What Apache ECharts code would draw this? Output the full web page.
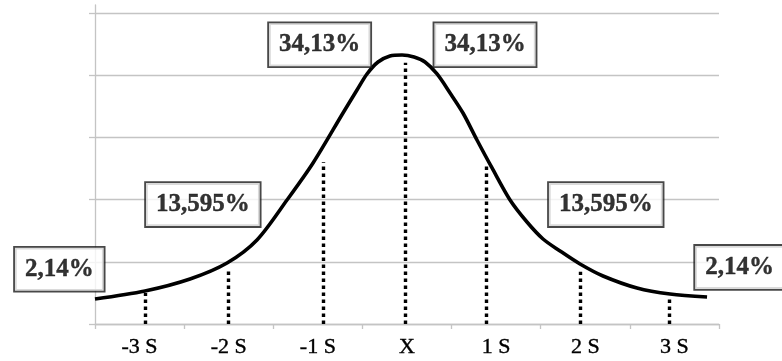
<!DOCTYPE html>
<html>
<head>
<meta charset="utf-8">
<script src="https://cdn.jsdelivr.net/npm/echarts@6/dist/echarts.min.js"></script>
<style>
html,body{margin:0;padding:0;background:#fff;}
#chart{width:782px;height:361px;}
</style>
</head>
<body>
<div id="chart"></div>
<script>
// Category tick labels (centres of 7 bands)
const categories = ['-3 S', '-2 S', '-1 S', 'X', '1 S', '2 S', '3 S'];

// Bell curve, x in band units (0..7), y in gridline units (0..5)
const curveX = [0.000,0.561,1.066,1.481,1.817,2.154,2.446,2.782,2.939,3.051,3.175,3.309,3.444,3.579,3.702,3.837,3.983,4.128,4.285,4.454,4.656,4.846,5.026,5.217,5.441,5.699,6.080,6.451,6.866];
const curveY = [0.402,0.531,0.724,0.981,1.351,1.994,2.589,3.393,3.763,4.021,4.214,4.310,4.326,4.294,4.214,4.021,3.715,3.393,2.959,2.509,1.994,1.640,1.367,1.174,0.965,0.772,0.579,0.482,0.434];

// Dotted standard-deviation markers
const sdX   = [0.56, 1.49, 2.56, 3.48, 4.39, 5.44, 6.44];
const sdTop = [0.50, 0.88, 2.60, 4.20, 2.59, 0.84, 0.42];

// Percentage annotation boxes
const boxTexts = ['2,14%', '13,595%', '34,13%', '34,13%', '13,595%', '2,14%'];
const boxX     = [-0.40, 1.21, 2.52, 4.375, 5.73, 7.23];
const boxY     = [0.88, 1.92, 4.49, 4.49, 1.92, 0.91];

const gridColor = '#c4c4c4';

const chart = echarts.init(document.getElementById('chart'), null, {renderer: 'canvas'});
chart.setOption({
  animation: false,
  backgroundColor: '#ffffff',
  grid: {left: 95, right: 63, top: 5, bottom: 37, containLabel: false},
  xAxis: [
    {
      type: 'category',
      data: categories,
      boundaryGap: true,
      axisLine: {show: true, lineStyle: {color: gridColor, width: 1.3}},
      axisTick: {show: true, length: 5, lineStyle: {color: gridColor, width: 1.3}},
      axisLabel: {fontFamily: 'Liberation Serif', fontSize: 22, color: '#000', margin: 12,
                  textBorderColor: '#000', textBorderWidth: 0.4},
      splitLine: {show: false}
    },
    {
      type: 'value', min: 0, max: 7, show: false
    }
  ],
  yAxis: [
    {
      type: 'value', min: 0, max: 5.13, interval: 1,
      axisLine: {show: true, lineStyle: {color: gridColor, width: 1.3}},
      axisTick: {show: true, length: 6, customValues: [0, 1, 2, 3, 4, 5], lineStyle: {color: gridColor, width: 1.3}},
      axisLabel: {show: false},
      splitLine: {show: true, lineStyle: {color: gridColor, width: 1.3}}
    }
  ],
  series: [
    {
      type: 'line',
      xAxisIndex: 1,
      yAxisIndex: 0,
      data: curveX.map((x, i) => [x, curveY[i]]),
      smooth: 0.3,
      showSymbol: false,
      lineStyle: {color: '#000', width: 3.6},
      z: 3,
      markLine: {
        silent: true,
        symbol: ['none', 'none'],
        label: {show: false},
        lineStyle: {color: '#000', width: 3.4, type: [3.5, 3.5]},
        data: sdX.map((x, i) => [{coord: [x, 0]}, {coord: [x, sdTop[i]]}])
      }
    },
    {
      type: 'scatter',
      xAxisIndex: 1,
      yAxisIndex: 0,
      clip: false,
      symbolSize: 0,
      itemStyle: {color: 'rgba(0,0,0,0)'},
      z: 10,
      data: boxTexts.map((t, i) => ({name: t, value: [boxX[i], boxY[i]]})),
      label: {
        show: true,
        position: 'inside',
        formatter: p => p.name,
        fontFamily: 'Liberation Serif',
        fontWeight: 'bold',
        fontSize: 25,
        lineHeight: 25,
        color: '#000',
        textBorderColor: '#000',
        textBorderWidth: 0.4,
        backgroundColor: '#ffffff',
        borderColor: '#1a1a1a',
        borderWidth: 1.8,
        padding: [9, 10]
      }
    }
  ]
});
</script>
</body>
</html>
